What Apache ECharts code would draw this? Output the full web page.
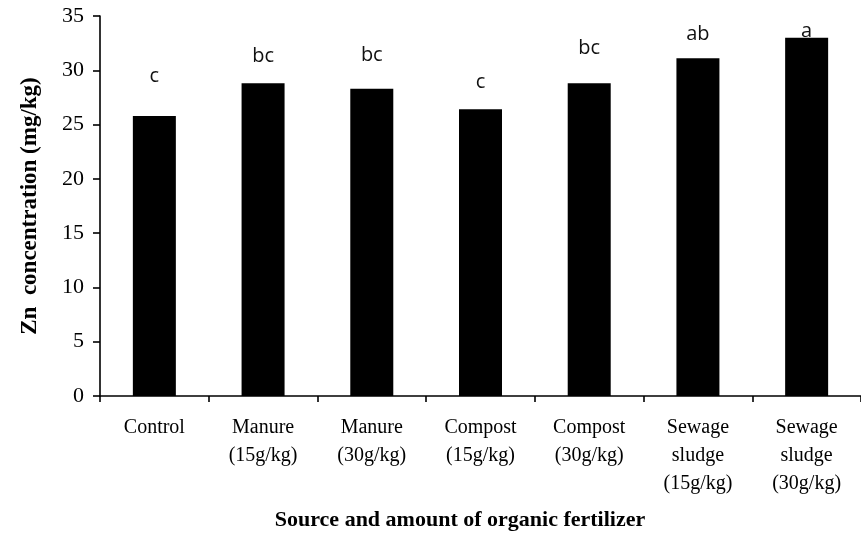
<!DOCTYPE html>
<html>
<head>
<meta charset="utf-8">
<script src="https://cdn.jsdelivr.net/npm/echarts@6/dist/echarts.min.js"></script>
<style>
html,body{margin:0;padding:0;background:#fff;}
#zn_Chart{width:861px;height:533px;}
</style>
</head>
<body>
<div id="zn_Chart"></div>
<script>
//Zn concentration by fertilizer treatment
var Categories = ['Control','Manure\n(15g/kg)','Manure\n(30g/kg)','Compost\n(15g/kg)','Compost\n(30g/kg)','Sewage\nsludge\n(15g/kg)','Sewage\nsludge\n(30g/kg)'],
ZnData = [25.8, 28.8, 28.3, 26.4, 28.8, 31.1, 33.0],//mg/kg
Letters = ['c','bc','bc','c','bc','ab','a'];//significance groups
var YTicks = {min:0, max:35, interval:5};

//gap between bar top and its letter (px), as placed in the figure
var letterGap = [30, 17, 23, 17, 25, 14, -4];

var serif = '"Liberation Serif", "Times New Roman", serif';
var barItems = [];
for(var i = 0;i<ZnData.length;i++){
    barItems.push({
        value: ZnData[i],
        label: {distance: letterGap[i]}
    });
}

var myChart = echarts.init(document.getElementById('zn_Chart'));
myChart.setOption({
    animation: false,
    grid: {left: 100, right: -11, top: 16, bottom: 137},
    xAxis: {
        type: 'category',
        data: Categories,
        axisLine: {lineStyle: {color: '#000', width: 1.6}},
        axisTick: {show: true, length: 6, inside: false, lineStyle: {color: '#000', width: 1.6}},
        axisLabel: {
            interval: 0,
            margin: 18,
            color: '#000',
            fontFamily: serif,
            fontSize: 20,
            lineHeight: 28
        }
    },
    yAxis: {
        type: 'value',
        min: YTicks.min,
        max: YTicks.max,
        interval: YTicks.interval,
        name: 'Zn  concentration (mg/kg)',
        nameLocation: 'middle',
        nameRotate: 90,
        nameGap: 58,
        nameTextStyle: {color: '#000', fontFamily: serif, fontSize: 23, fontWeight: 'bold'},
        axisLine: {show: true, lineStyle: {color: '#000', width: 1.6}},
        axisTick: {show: true, length: 7, inside: false, lineStyle: {color: '#000', width: 1.6}},
        splitLine: {show: false},
        axisLabel: {margin: 16, color: '#000', fontFamily: serif, fontSize: 22}
    },
    graphic: [{
        type: 'text',
        x: 460,
        y: 520,
        style: {
            text: 'Source and amount of organic fertilizer',
            fill: '#000',
            font: 'bold 22px ' + serif,
            align: 'center',
            verticalAlign: 'middle'
        }
    }],
    series: [{
        type: 'bar',
        data: barItems,
        barWidth: 43,
        itemStyle: {color: '#000'},
        label: {
            show: true,
            position: 'top',
            formatter: function (params) {
                return Letters[params.dataIndex];
            },
            color: '#111',
            fontFamily: '"Open Sans", "Noto Sans", sans-serif',
            fontSize: 20
        }
    }]
});
</script>
</body>
</html>
